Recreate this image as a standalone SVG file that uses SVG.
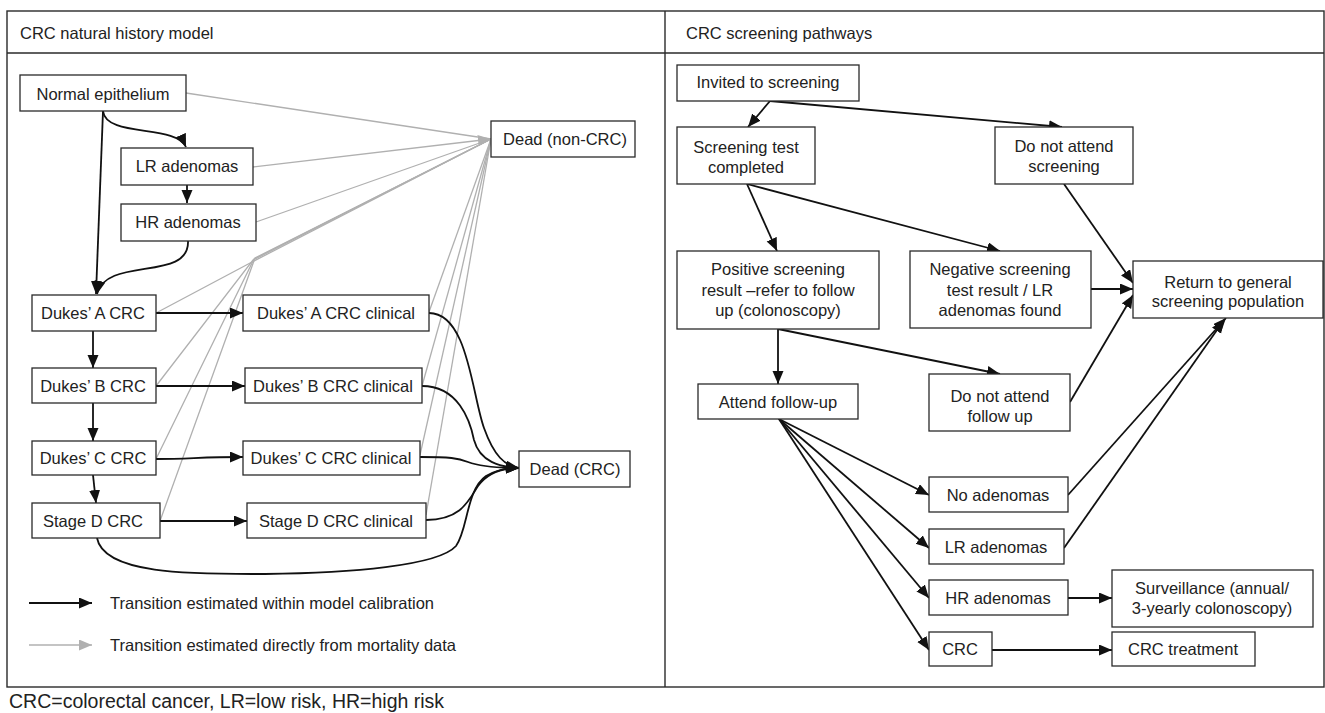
<svg xmlns="http://www.w3.org/2000/svg" width="1325" height="713" viewBox="0 0 1325 713">
<style>
.box{fill:#fff;stroke:#2a2a2a;stroke-width:1.3}
.t{font-family:"Liberation Sans",Arial,sans-serif;font-size:16.5px;fill:#222;text-anchor:middle}
.tl{font-family:"Liberation Sans",Arial,sans-serif;font-size:16.5px;fill:#222}
.k{fill:none;stroke:#111;stroke-width:1.8}
.g{fill:none;stroke:#b0b0b0;stroke-width:1.3}
.frame{fill:none;stroke:#2a2a2a;stroke-width:1.4}
</style>
<defs>
<marker id="ak" markerUnits="userSpaceOnUse" markerWidth="14" markerHeight="12" refX="13" refY="5.5" orient="auto"><path d="M0,0 L13,5.5 L0,11 z" fill="#111"/></marker>
<marker id="ag" markerUnits="userSpaceOnUse" markerWidth="14" markerHeight="12" refX="13" refY="5.5" orient="auto"><path d="M0,0 L13,5.5 L0,11 z" fill="#b0b0b0"/></marker>
</defs>
<rect width="1325" height="713" fill="#fff"/>
<g id="frame">
<rect class="frame" x="7" y="11" width="1317" height="676"/>
<line class="frame" x1="7" y1="53" x2="1324" y2="53"/>
<line class="frame" x1="665" y1="11" x2="665" y2="687"/>
<text class="tl" x="20" y="39">CRC natural history model</text>
<text class="tl" x="686" y="39">CRC screening pathways</text>
</g>
<g id="connectors">
<path class="g" d="M186,93 L491,139"/>
<path class="g" d="M253,167 L491,139" marker-end="url(#ag)"/>
<path class="g" d="M256,222 L491,139"/>
<path class="g" d="M156,313 L252,262 L491,139"/>
<path class="g" d="M156,386 L253,260 L491,139"/>
<path class="g" d="M156,459 L254,259 L491,139"/>
<path class="g" d="M160,521 L255,258 L491,139"/>
<path class="g" d="M429,312 L491,139"/>
<path class="g" d="M422,386 L491,139"/>
<path class="g" d="M420,455 L491,139"/>
<path class="g" d="M426,515 L491,139"/>
<path class="k" d="M103,111 C106,138 176,124 186,147" marker-end="url(#ak)"/>
<path class="k" d="M103,111 L96,294" marker-end="url(#ak)"/>
<path class="k" d="M188,241 C190,282 106,256 97,294" marker-end="url(#ak)"/>
<path class="k" d="M187,185 L187,203" marker-end="url(#ak)"/>
<path class="k" d="M156,313 L243,313" marker-end="url(#ak)"/>
<path class="k" d="M156,386 L245,386" marker-end="url(#ak)"/>
<path class="k" d="M156,459 C190,459 200,457 243,457" marker-end="url(#ak)"/>
<path class="k" d="M160,521 L247,521" marker-end="url(#ak)"/>
<path class="k" d="M93,331 L93,368" marker-end="url(#ak)"/>
<path class="k" d="M93,403 L93,441" marker-end="url(#ak)"/>
<path class="k" d="M93,475 L96,503" marker-end="url(#ak)"/>
<path class="k" d="M429,313 C468,313 472,395 484,428 C494,456 505,466 519,468" marker-end="url(#ak)"/>
<path class="k" d="M422,386 C458,386 470,420 474,440 C480,462 500,467 519,468" marker-end="url(#ak)"/>
<path class="k" d="M420,457 C450,457 458,458 468,462 C484,468 505,468 519,468" marker-end="url(#ak)"/>
<path class="k" d="M426,520 C460,520 468,502 478,486 C488,472 505,468 519,468" marker-end="url(#ak)"/>
<path class="k" d="M97,538 C104,576 200,574 265,574 C350,573 438,566 456,546 C468,530 466,490 486,476 C498,469 510,468 519,468" marker-end="url(#ak)"/>
<path class="k" d="M29,603 L92,603" marker-end="url(#ak)"/>
<path class="g" d="M29,645 L92,645" stroke-width="1.8" marker-end="url(#ag)"/>
<path class="k" d="M770,101 L748,127" marker-end="url(#ak)"/>
<path class="k" d="M770,101 L1062,127" marker-end="url(#ak)"/>
<path class="k" d="M747,184 L777,251" marker-end="url(#ak)"/>
<path class="k" d="M747,184 L1000,251" marker-end="url(#ak)"/>
<path class="k" d="M1064,184 L1133,283" marker-end="url(#ak)"/>
<path class="k" d="M1091,289 L1133,289" marker-end="url(#ak)"/>
<path class="k" d="M1070,402 L1133,295" marker-end="url(#ak)"/>
<path class="k" d="M778,329 L778,384" marker-end="url(#ak)"/>
<path class="k" d="M778,329 L1000,374" marker-end="url(#ak)"/>
<path class="k" d="M779,419 L929,495" marker-end="url(#ak)"/>
<path class="k" d="M779,419 L929,548" marker-end="url(#ak)"/>
<path class="k" d="M779,419 L929,598" marker-end="url(#ak)"/>
<path class="k" d="M779,419 L929,650" marker-end="url(#ak)"/>
<path class="k" d="M1068,495 L1226,318" marker-end="url(#ak)"/>
<path class="k" d="M1064,548 L1224,320" marker-end="url(#ak)"/>
<path class="k" d="M1068,598 L1112,598" marker-end="url(#ak)"/>
<path class="k" d="M992,650 L1112,650" marker-end="url(#ak)"/>
</g>
<g id="n-normal"><rect class="box" x="20" y="75" width="166" height="36"/><text class="t" x="103" y="100">Normal epithelium</text></g>
<g id="n-lr"><rect class="box" x="121" y="148" width="132" height="37"/><text class="t" x="187" y="172">LR adenomas</text></g>
<g id="n-hr"><rect class="box" x="121" y="204" width="135" height="37"/><text class="t" x="188" y="228">HR adenomas</text></g>
<g id="n-deadnon"><rect class="box" x="491" y="121" width="144" height="36"/><text class="t" x="565" y="145">Dead (non-CRC)</text></g>
<g id="n-dukesA"><rect class="box" x="32" y="295" width="124" height="36"/><text class="t" x="93" y="319">Dukes’ A CRC</text></g>
<g id="n-dukesAc"><rect class="box" x="243" y="295" width="186" height="36"/><text class="t" x="336" y="319">Dukes’ A CRC clinical</text></g>
<g id="n-dukesB"><rect class="box" x="32" y="368" width="124" height="35"/><text class="t" x="93" y="392">Dukes’ B CRC</text></g>
<g id="n-dukesBc"><rect class="box" x="245" y="368" width="177" height="35"/><text class="t" x="333" y="392">Dukes’ B CRC clinical</text></g>
<g id="n-dukesC"><rect class="box" x="32" y="441" width="124" height="34"/><text class="t" x="93" y="464">Dukes’ C CRC</text></g>
<g id="n-dukesCc"><rect class="box" x="243" y="441" width="177" height="34"/><text class="t" x="331" y="464">Dukes’ C CRC clinical</text></g>
<g id="n-stageD"><rect class="box" x="32" y="503" width="128" height="35"/><text class="t" x="93" y="527">Stage D CRC</text></g>
<g id="n-stageDc"><rect class="box" x="247" y="503" width="179" height="35"/><text class="t" x="336" y="527">Stage D CRC clinical</text></g>
<g id="n-deadcrc"><rect class="box" x="519" y="451" width="111" height="36"/><text class="t" x="575" y="475">Dead (CRC)</text></g>
<g id="legend">
<text class="tl" x="110" y="609">Transition estimated within model calibration</text>
<text class="tl" x="110" y="651">Transition estimated directly from mortality data</text>
</g>
<g id="n-invited"><rect class="box" x="677" y="65" width="182" height="36"/><text class="t" x="768" y="88">Invited to screening</text></g>
<g id="n-completed"><rect class="box" x="677" y="127" width="138" height="57"/><text class="t" x="746" y="153">Screening test</text><text class="t" x="746" y="173">completed</text></g>
<g id="n-noattend"><rect class="box" x="995" y="127" width="138" height="57"/><text class="t" x="1064" y="152">Do not attend</text><text class="t" x="1064" y="172">screening</text></g>
<g id="n-positive"><rect class="box" x="677" y="251" width="202" height="78"/><text class="t" x="778" y="275">Positive screening</text><text class="t" x="778" y="296">result –refer to follow</text><text class="t" x="778" y="316">up (colonoscopy)</text></g>
<g id="n-negative"><rect class="box" x="910" y="251" width="181" height="77"/><text class="t" x="1000" y="275">Negative screening</text><text class="t" x="1000" y="296">test result / LR</text><text class="t" x="1000" y="316">adenomas found</text></g>
<g id="n-return"><rect class="box" x="1133" y="261" width="190" height="57"/><text class="t" x="1228" y="288">Return to general</text><text class="t" x="1228" y="307">screening population</text></g>
<g id="n-attend"><rect class="box" x="698" y="384" width="160" height="35"/><text class="t" x="778" y="408">Attend follow-up</text></g>
<g id="n-noattendfu"><rect class="box" x="929" y="374" width="141" height="57"/><text class="t" x="1000" y="402">Do not attend</text><text class="t" x="1000" y="422">follow up</text></g>
<g id="n-noaden"><rect class="box" x="929" y="477" width="139" height="35"/><text class="t" x="998" y="501">No adenomas</text></g>
<g id="n-lraden"><rect class="box" x="929" y="529" width="135" height="35"/><text class="t" x="996" y="553">LR adenomas</text></g>
<g id="n-hraden"><rect class="box" x="929" y="580" width="139" height="35"/><text class="t" x="998" y="604">HR adenomas</text></g>
<g id="n-surv"><rect class="box" x="1112" y="570" width="201" height="57"/><text class="t" x="1212" y="594">Surveillance (annual/</text><text class="t" x="1212" y="614">3-yearly colonoscopy)</text></g>
<g id="n-crc"><rect class="box" x="929" y="632" width="63" height="34"/><text class="t" x="960" y="655">CRC</text></g>
<g id="n-crctreat"><rect class="box" x="1112" y="632" width="143" height="34"/><text class="t" x="1183" y="655">CRC treatment</text></g>
<text class="tl" x="9" y="708" style="font-size:19.5px">CRC=colorectal cancer, LR=low risk, HR=high risk</text>
</svg>
